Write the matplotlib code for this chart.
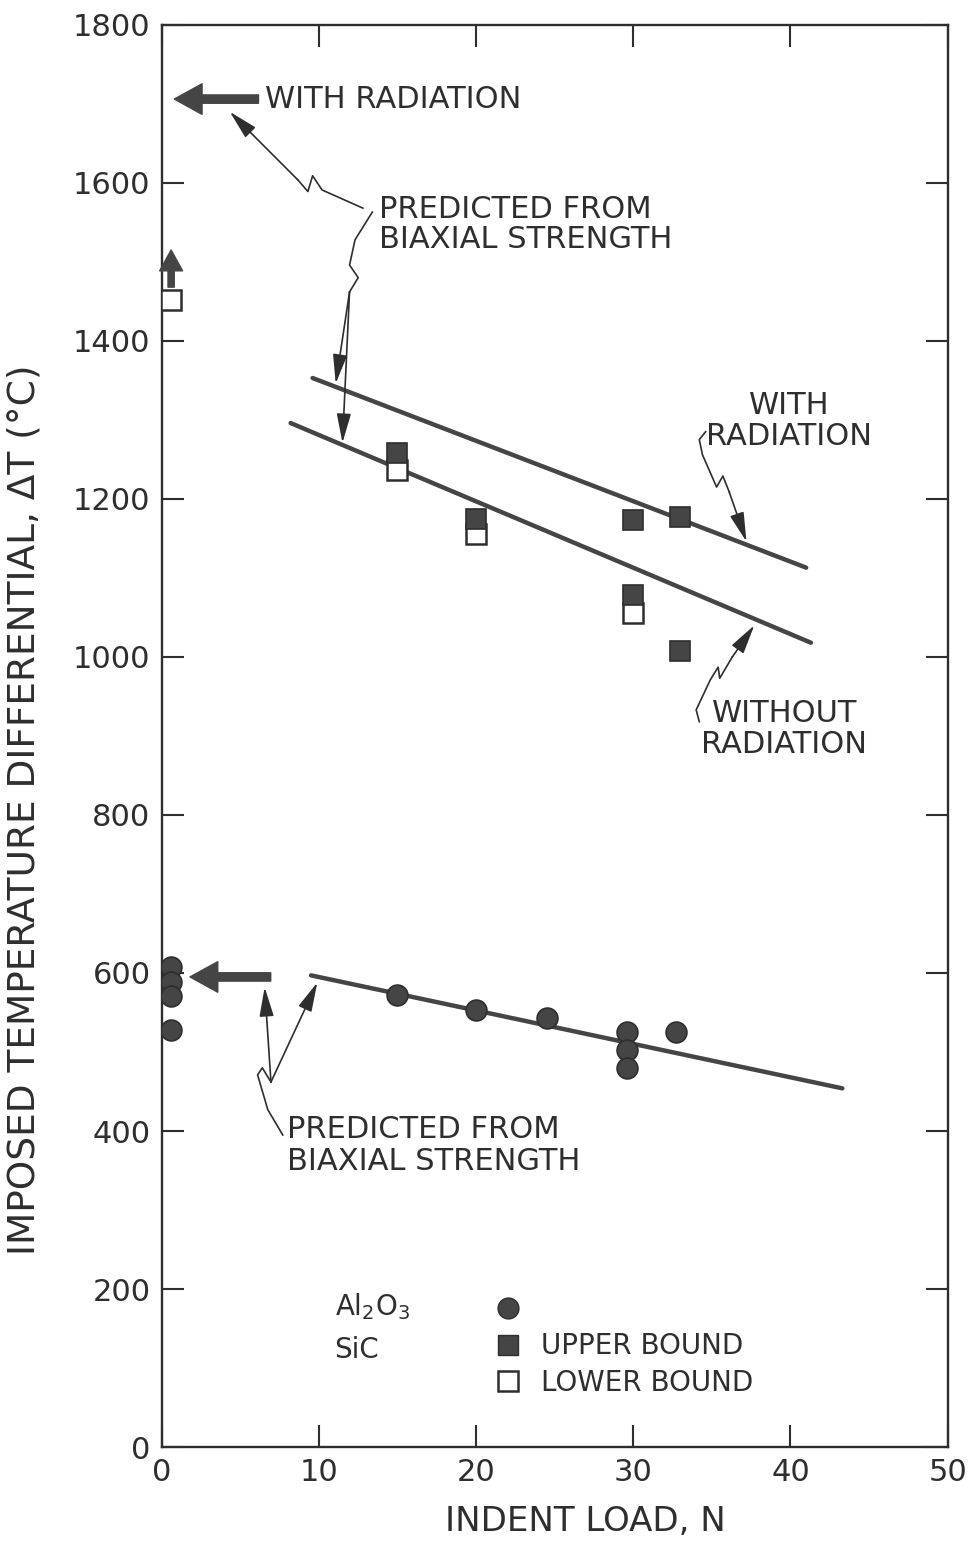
import matplotlib.pyplot as plt
from matplotlib.lines import Line2D

# Al2O3 measured values (circles)
al_load = [0.6, 0.6, 0.6, 0.6, 15, 20, 24.5, 29.6, 29.6, 29.6, 32.7]
al_dt = [608, 589, 571, 528, 572, 553, 543, 525, 503, 480, 525]

# SiC upper bound (filled squares)
sic_up_load = [15, 20, 30, 30, 33, 33]
sic_up_dt = [1258, 1175, 1173, 1078, 1177, 1008]

# SiC lower bound (open squares)
sic_lo_load = [0.6, 15, 20, 30]
sic_lo_dt = [1452, 1236, 1155, 1055]

# predicted from biaxial strength
with_rad_load = [9.6, 41.0]
with_rad_dt = [1353, 1113]
without_rad_load = [8.2, 41.3]
without_rad_dt = [1296, 1018]
al_pred_load = [9.5, 43.3]
al_pred_dt = [597, 454]

# predicted values for unindented specimens (arrows at the axis)
sic_free_pred = 1706
al_free_pred = 595

xticks = [0, 10, 20, 30, 40, 50]
yticks = [0, 200, 400, 600, 800, 1000, 1200, 1400, 1600, 1800]

ink = '#2e2e2e'
grey = '#454545'

plt.rcParams['font.family'] = 'DejaVu Sans'
fig = plt.figure(figsize=(9.8, 15.51), dpi=100)
ax = fig.add_axes([0.165, 0.067, 0.802, 0.917])

# predicted lines
for xs, ys in [(with_rad_load, with_rad_dt), (without_rad_load, without_rad_dt),
               (al_pred_load, al_pred_dt)]:
    ax.plot(xs, ys, color=grey, lw=3.2, solid_capstyle='round', zorder=2)

# data points
ax.plot(al_load, al_dt, 'o', ms=15, mfc=grey, mec=ink, mew=1.2, ls='none', zorder=3)
ax.plot(sic_lo_load, sic_lo_dt, 's', ms=14, mfc='white', mec=ink, mew=1.8, ls='none', zorder=3)
ax.plot(sic_up_load, sic_up_dt, 's', ms=14, mfc=grey, mec=ink, mew=1.2, ls='none', zorder=4)

ax.set_xlim(0, 50)
ax.set_ylim(0, 1800)
ax.set_xticks(xticks)
ax.set_yticks(yticks)
ax.tick_params(direction='in', length=16, width=1.5, top=True, right=True,
               labelsize=22, pad=8, colors=ink)
for s in ax.spines.values():
    s.set_linewidth(1.7)
    s.set_color(ink)

ax.set_xlabel('INDENT LOAD, N', fontsize=24.5, color=ink)
ax.xaxis.set_label_coords(0.539, -0.041)
ax.set_ylabel('IMPOSED TEMPERATURE DIFFERENTIAL, \u0394T (\u00b0C)', fontsize=27, color=ink)
ax.yaxis.set_label_coords(-0.152, 0.448)

fat = dict(arrowstyle='simple,head_length=1.0,head_width=1.1,tail_width=0.3',
           fc=grey, ec=grey, lw=1, mutation_scale=20, shrinkA=3, shrinkB=0)
thin = dict(arrowstyle='-|>,head_length=0.9,head_width=0.22', color=ink, lw=1.2,
            mutation_scale=20, shrinkA=0, shrinkB=0)

# arrows at the axis
ax.annotate('WITH RADIATION', xy=(0.8, sic_free_pred), xytext=(6.6, sic_free_pred),
            ha='left', va='center', fontsize=22, color=ink, arrowprops=fat)
ax.annotate('', xy=(1.8, al_free_pred), xytext=(7.2, al_free_pred), arrowprops=fat)
ax.annotate('', xy=(sic_lo_load[0], 1515), xytext=(sic_lo_load[0], 1468),
            arrowprops=dict(fat, mutation_scale=15, shrinkA=0))


def leader(pts, tips):
    xs = [p[0] for p in pts]
    ys = [p[1] for p in pts]
    ax.plot(xs, ys, color=ink, lw=1.2, zorder=5)
    for tip in tips:
        ax.annotate('', xy=tip, xytext=pts[-1], arrowprops=thin)


# upper "predicted from biaxial strength"
ax.text(13.8, 1547, 'PREDICTED FROM\nBIAXIAL STRENGTH', fontsize=22, color=ink,
        ha='left', va='center', linespacing=1.05)
leader([(12.8, 1568), (10.2, 1591), (9.6, 1609), (9.3, 1589), (8.65, 1604)],
       [(4.33, 1690)])
leader([(13.4, 1563), (12.3, 1528), (11.95, 1496), (12.5, 1480), (11.95, 1462)],
       [(11.07, 1346), (11.5, 1271)])

# right hand labels
ax.text(39.9, 1299, 'WITH\nRADIATION', fontsize=22, color=ink, ha='center',
        va='center', linespacing=1.1)
leader([(34.6, 1285), (34.2, 1275), (34.4, 1256), (35.3, 1215), (35.7, 1229),
        (36.1, 1209)], [(37.2, 1146)])
ax.text(39.6, 909, 'WITHOUT\nRADIATION', fontsize=22, color=ink, ha='center',
        va='center', linespacing=1.1)
leader([(34.2, 918), (34.0, 933), (34.9, 971), (35.4, 987), (35.5, 973),
        (36.3, 1000)], [(37.7, 1040)])

# lower "predicted from biaxial strength"
ax.text(8.0, 382, 'PREDICTED FROM\nBIAXIAL STRENGTH', fontsize=22, color=ink,
        ha='left', va='center', linespacing=1.15)
leader([(7.7, 395), (6.75, 427), (6.1, 471), (6.4, 480), (6.95, 462)],
       [(6.55, 582), (9.9, 588)])

# key
handles = [Line2D([], [], marker='o', ms=15, mfc=grey, mec=ink, ls='none'),
           Line2D([], [], marker='s', ms=14, mfc=grey, mec=ink, ls='none'),
           Line2D([], [], marker='s', ms=14, mfc='white', mec=ink, mew=1.8, ls='none')]
leg = ax.legend(handles, ['', 'UPPER BOUND', 'LOWER BOUND'], loc='upper left',
                bbox_to_anchor=(0.405, 0.116), frameon=False, fontsize=20,
                handlelength=1.0, handletextpad=0.7, labelspacing=0.3, borderpad=0)
for t in leg.get_texts():
    t.set_color(ink)
ax.text(11.0, 178, 'Al$_2$O$_3$', fontsize=20, color=ink, ha='left', va='center')
ax.text(11.0, 123, 'SiC', fontsize=20, color=ink, ha='left', va='center')

fig.savefig('out.png', dpi=100)
